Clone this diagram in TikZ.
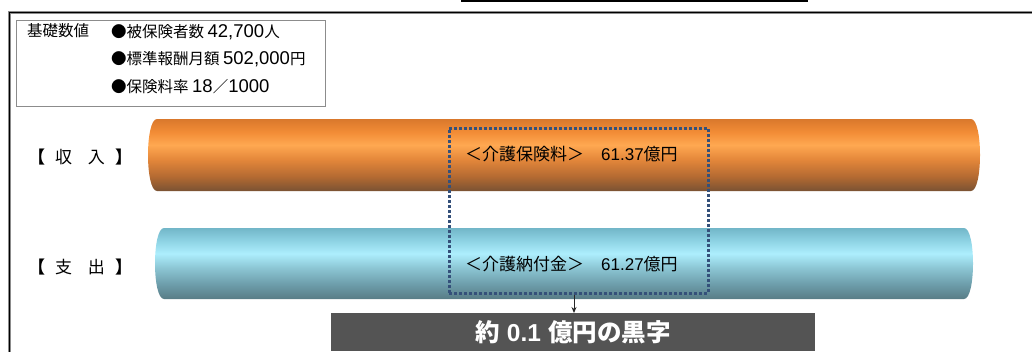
\documentclass[tikz,border=0pt]{standalone}
\usepackage{fontspec}
\setmainfont{Noto Sans CJK JP}
\newfontfamily\num{Liberation Sans}
\usetikzlibrary{arrows.meta}
\definecolor{otop}{HTML}{D9782C}
\definecolor{oa}{HTML}{F28C36}
\definecolor{ohi}{HTML}{FFA851}
\definecolor{omid}{HTML}{E4873A}
\definecolor{olow}{HTML}{B46A32}
\definecolor{obot}{HTML}{7A5233}
\definecolor{btop}{HTML}{72B6C8}
\definecolor{ba}{HTML}{8ED3E4}
\definecolor{bhi}{HTML}{ADEEFD}
\definecolor{bmid}{HTML}{8CC6D4}
\definecolor{blow}{HTML}{6C9CA9}
\definecolor{bbot}{HTML}{587C86}
\definecolor{dotblue}{HTML}{34507A}
\definecolor{resgray}{HTML}{545454}
\pgfdeclareverticalshading{orangecyl}{100bp}{color(0bp)=(obot); color(25bp)=(obot); color(35bp)=(olow); color(47bp)=(omid); color(57bp)=(ohi); color(66bp)=(oa); color(75bp)=(otop); color(100bp)=(otop)}
\pgfdeclareverticalshading{bluecyl}{100bp}{color(0bp)=(bbot); color(25bp)=(bbot); color(35bp)=(blow); color(47bp)=(bmid); color(57bp)=(bhi); color(66bp)=(ba); color(75bp)=(btop); color(100bp)=(btop)}
\tikzset{
  jp/.style={font=\fontsize{15.5}{18}\selectfont, inner sep=0, anchor=west},
  lbl/.style={font=\fontsize{17}{20}\selectfont, inner sep=0},
  cyltext/.style={font=\fontsize{17}{20}\selectfont, inner sep=0, anchor=west},
}
\newcommand{\bignum}[1]{{\num\fontsize{18.5}{20}\selectfont #1}}
\newcommand{\cyl}[6]{% L R T B rx shading
  \shade[shading=#6] (#1+#5,#3) -- (#2-#5,#3)
    .. controls (#2-#5+1.333*#5,#3) and (#2-#5+1.333*#5,#4) .. (#2-#5,#4)
    -- (#1+#5,#4)
    .. controls (#1+#5-1.333*#5,#4) and (#1+#5-1.333*#5,#3) .. (#1+#5,#3) -- cycle;}
\begin{document}
\begin{tikzpicture}[x=1pt,y=-1pt]
\useasboundingbox (0,0) rectangle (1032,351);
% outer frame
\draw[line width=3.2, black!45] (9.5,352) -- (9.5,12.5) -- (1033,12.5);
\draw[line width=1.3, black] (9.5,352) -- (9.5,12.5) -- (1033,12.5);
\draw[line width=2] (461,1) -- (808,1);
% info box
\node[draw=black!45, line width=1, minimum width=309, minimum height=86, anchor=north west, inner sep=0] (info) at (16,19.5) {};
\node[jp] (kiso) at (27,31) {基礎数値};
\node[jp] (r1) at (111,32) {●被保険者数 \bignum{42,700}人};
\node[jp] (r2) at (111,59.5) {●標準報酬月額 \bignum{502,000}円};
\node[jp] (r3) at (111,87) {●保険料率 \bignum{18}／\bignum{1000}};
% labels
\node[lbl] (inc) at (80,157) {{\bfseries 【}\hspace{10pt}収\hspace{16pt}入\hspace{10pt}{\bfseries 】}};
\node[lbl] (exp) at (80,267) {{\bfseries 【}\hspace{10pt}支\hspace{16pt}出\hspace{10pt}{\bfseries 】}};
% cylinders
\cyl{148}{980}{119}{191}{9}{orangecyl}
\cyl{155}{973}{228}{299}{9}{bluecyl}
% texts on cylinders
\node[cyltext] (t1) at (465,154) {＜介護保険料＞　{\num 61.37}億円};
\node[cyltext] (t2) at (465,264) {＜介護納付金＞　{\num 61.27}億円};
% dotted selection
\node[draw=dotblue, line width=3, dash pattern=on 2.6pt off 2.4pt, minimum width=259, minimum height=165, inner sep=0] (sel) at (578.5,210.5) {};
% result
\node[fill=resgray, minimum width=484, minimum height=38, anchor=north, inner sep=0, text=white, font=\bfseries\fontsize{24.5}{27}\selectfont] (res) at (573,313) {約\hspace{7pt}{\num\bfseries 0.1}\hspace{7pt}億円の黒字};
\draw[black!85, line width=0.9, -{Stealth[length=6pt,width=5pt]}] (sel.south -| 574,0) -- (res.north -| 574,0);
\end{tikzpicture}
\end{document}
